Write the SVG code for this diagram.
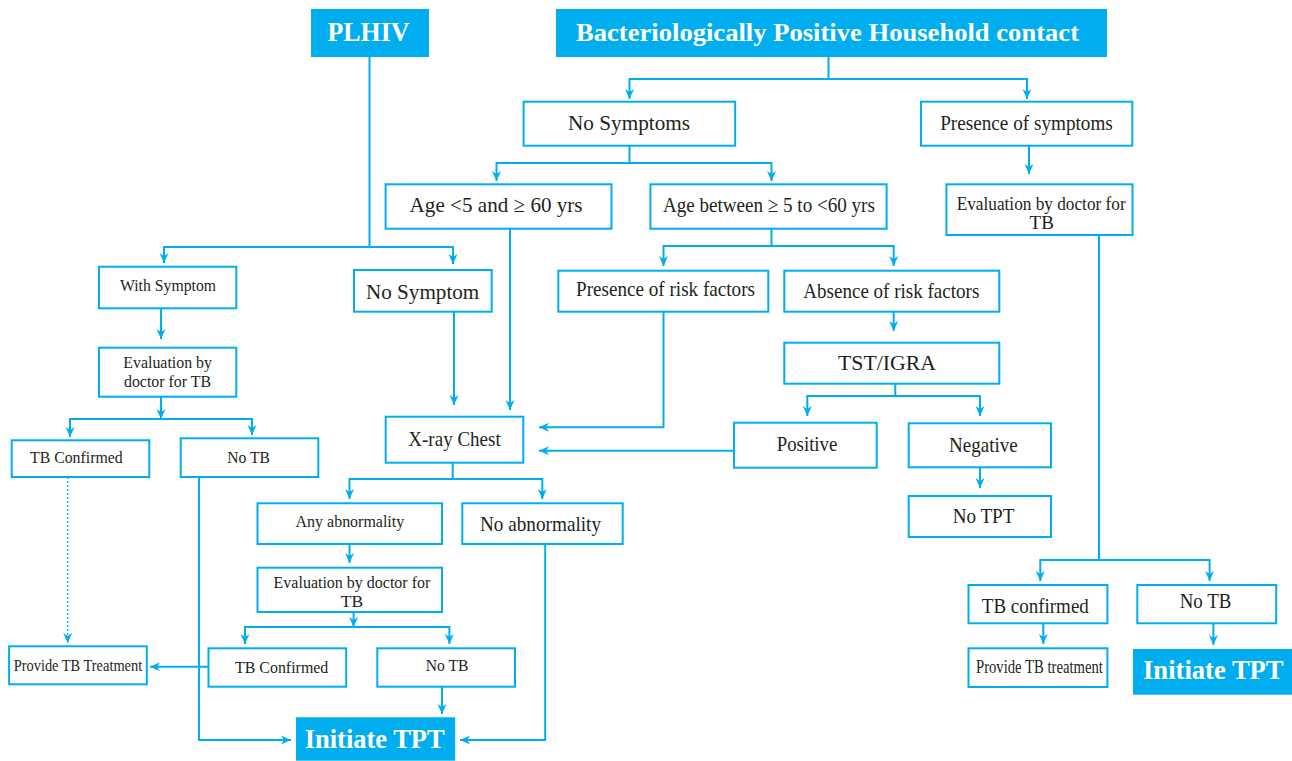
<svg xmlns="http://www.w3.org/2000/svg" width="1292" height="761" viewBox="0 0 1292 761">
  <defs>
    <marker id="arr" viewBox="0 0 10 10" refX="10" refY="5" markerUnits="userSpaceOnUse" markerWidth="10" markerHeight="10" orient="auto">
      <path d="M0,0.5 L10,5 L0,9.5 L3,5 z" fill="#00aeef"/>
    </marker>
    <style>
      .box { fill: #ffffff; stroke: #00aeef; stroke-width: 2; }
      .hd { fill: #00aeef; stroke: none; }
      .t { font-family: "Liberation Serif", "Times New Roman", serif; fill: #231f20; }
      .h { font-family: "Liberation Serif", "Times New Roman", serif; fill: #ffffff; font-weight: bold; }
      .c { fill: none; stroke: #00aeef; stroke-width: 2; marker-end: url(#arr); }
      .l { fill: none; stroke: #00aeef; stroke-width: 2; }
      .d { fill: none; stroke: #00aeef; stroke-width: 1.3; stroke-dasharray: 2 2; marker-end: url(#arr); }
    </style>
  </defs>
  <rect width="1292" height="761" fill="#ffffff"/>

  <!-- connectors -->
  <g id="connectors">
    <path class="c" d="M369.5,57 V247 H164 V263"/>
    <path class="c" d="M369.5,247 H453 V264"/>
    <path class="c" d="M828.5,57 V79 H629.5 V99"/>
    <path class="c" d="M828.5,79 H1027 V99"/>
    <path class="c" d="M629.5,146 V163 H496.5 V181"/>
    <path class="c" d="M629.5,163 H771.5 V181"/>
    <path class="c" d="M1029,146 V174"/>
    <path class="c" d="M510,229 V410"/>
    <path class="c" d="M771.5,229 V246 H663.5 V266"/>
    <path class="c" d="M771.5,246 H893.7 V266"/>
    <path class="c" d="M161,308 V339"/>
    <path class="c" d="M161,397 V419"/>
    <path class="c" d="M161,419 H70 V437"/>
    <path class="c" d="M161,419 H252 V435"/>
    <path class="c" d="M454,312 V405"/>
    <path class="c" d="M663.5,312 V427.3 H539"/>
    <path class="c" d="M734,450.7 H539"/>
    <path class="c" d="M893.7,312 V331"/>
    <path class="c" d="M895.3,384 V396 H807.3 V416"/>
    <path class="c" d="M895.3,396 H980 V416"/>
    <path class="c" d="M980,467.3 V488"/>
    <path class="c" d="M452.7,463 V479 H349.5 V499"/>
    <path class="c" d="M452.7,479 H542.3 V499"/>
    <path class="c" d="M349.5,544 V563"/>
    <path class="c" d="M353.6,612 V627"/>
    <path class="c" d="M353.6,627 H245 V644"/>
    <path class="c" d="M353.6,627 H449.4 V644"/>
    <path class="c" d="M208.5,666.7 H150"/>
    <path class="d" d="M67.7,477 V643"/>
    <path class="c" d="M199,477 V740 H291"/>
    <path class="c" d="M442,687 V714"/>
    <path class="c" d="M545.2,544 V740 H460"/>
    <path class="c" d="M1099,235 V560 H1040.3 V581"/>
    <path class="c" d="M1099,560 H1209.6 V581"/>
    <path class="c" d="M1043.3,623.3 V644"/>
    <path class="c" d="M1213.4,623.3 V645"/>
  </g>

  <!-- entry points -->
  <g id="plhiv">
    <rect class="hd" x="311" y="9" width="118" height="48"/>
    <text class="h" x="327.5" y="41" font-size="27" textLength="82" lengthAdjust="spacingAndGlyphs">PLHIV</text>
  </g>
  <g id="household">
    <rect class="hd" x="556" y="9" width="551" height="48"/>
    <text class="h" x="576" y="41" font-size="26" textLength="503" lengthAdjust="spacingAndGlyphs">Bacteriologically Positive Household contact</text>
  </g>

  <!-- household contact branch -->
  <g id="no-symptoms">
    <rect class="box" x="523.6" y="101.7" width="211.6" height="44"/>
    <text class="t" x="568" y="129.5" font-size="22" textLength="122" lengthAdjust="spacingAndGlyphs">No Symptoms</text>
  </g>
  <g id="presence-symptoms">
    <rect class="box" x="921" y="101.7" width="211.3" height="44"/>
    <text class="t" x="940.2" y="129.5" font-size="22" textLength="172.6" lengthAdjust="spacingAndGlyphs">Presence of symptoms</text>
  </g>
  <g id="age-lt5">
    <rect class="box" x="385.6" y="184.3" width="225.9" height="44.4"/>
    <text class="t" x="409.6" y="212" font-size="22" textLength="173" lengthAdjust="spacingAndGlyphs">Age &lt;5 and ≥ 60 yrs</text>
  </g>
  <g id="age-5-60">
    <rect class="box" x="650.4" y="184.3" width="236.2" height="44.4"/>
    <text class="t" x="662.9" y="212" font-size="22" textLength="212" lengthAdjust="spacingAndGlyphs">Age between ≥ 5 to &lt;60 yrs</text>
  </g>
  <g id="eval-right">
    <rect class="box" x="946.4" y="184.3" width="186.1" height="50.7"/>
    <text class="t" x="956.7" y="210" font-size="19" textLength="169" lengthAdjust="spacingAndGlyphs">Evaluation by doctor for</text>
    <text class="t" x="1041.7" y="229.3" font-size="19" text-anchor="middle">TB</text>
  </g>
  <g id="risk-present">
    <rect class="box" x="558.3" y="270.7" width="210" height="41"/>
    <text class="t" x="576" y="296" font-size="22" textLength="179" lengthAdjust="spacingAndGlyphs">Presence of risk factors</text>
  </g>
  <g id="risk-absent">
    <rect class="box" x="784.3" y="270.7" width="215" height="41"/>
    <text class="t" x="803.3" y="297.7" font-size="22" textLength="176" lengthAdjust="spacingAndGlyphs">Absence of risk factors</text>
  </g>
  <g id="tst-igra">
    <rect class="box" x="784.3" y="342.7" width="215" height="41"/>
    <text class="t" x="838" y="370" font-size="22" textLength="98" lengthAdjust="spacingAndGlyphs">TST/IGRA</text>
  </g>
  <g id="positive">
    <rect class="box" x="734" y="422.7" width="142.7" height="45"/>
    <text class="t" x="776.7" y="451" font-size="22" textLength="60.7" lengthAdjust="spacingAndGlyphs">Positive</text>
  </g>
  <g id="negative">
    <rect class="box" x="908.7" y="423.3" width="142.3" height="44"/>
    <text class="t" x="949" y="451.7" font-size="22" textLength="68.7" lengthAdjust="spacingAndGlyphs">Negative</text>
  </g>
  <g id="no-tpt">
    <rect class="box" x="908.7" y="496" width="142.3" height="41"/>
    <text class="t" x="952.7" y="523.3" font-size="22" textLength="61.7" lengthAdjust="spacingAndGlyphs">No TPT</text>
  </g>
  <g id="tb-confirmed-right">
    <rect class="box" x="968.5" y="585" width="138.9" height="38.3"/>
    <text class="t" x="981.8" y="612.7" font-size="21.5" textLength="107" lengthAdjust="spacingAndGlyphs">TB confirmed</text>
  </g>
  <g id="no-tb-right">
    <rect class="box" x="1137.3" y="585" width="138.9" height="38.3"/>
    <text class="t" x="1179.7" y="608.3" font-size="21.5" textLength="51.6" lengthAdjust="spacingAndGlyphs">No TB</text>
  </g>
  <g id="treat-right">
    <rect class="box" x="968.5" y="648.3" width="138.9" height="38.7"/>
    <text class="t" x="976" y="672.7" font-size="19" textLength="126.8" lengthAdjust="spacingAndGlyphs">Provide TB treatment</text>
  </g>
  <g id="tpt-right">
    <rect class="hd" x="1133" y="649" width="159" height="45.7"/>
    <text class="h" x="1143" y="679" font-size="27" textLength="140.6" lengthAdjust="spacingAndGlyphs">Initiate TPT</text>
  </g>

  <!-- PLHIV branch -->
  <g id="with-symptom">
    <rect class="box" x="99" y="266.7" width="137.3" height="41.6"/>
    <text class="t" x="120" y="290.7" font-size="17" textLength="96" lengthAdjust="spacingAndGlyphs">With Symptom</text>
  </g>
  <g id="no-symptom">
    <rect class="box" x="354" y="270" width="137.7" height="41.7"/>
    <text class="t" x="366" y="299.3" font-size="22" textLength="113.3" lengthAdjust="spacingAndGlyphs">No Symptom</text>
  </g>
  <g id="eval-left">
    <rect class="box" x="99" y="347.7" width="137.3" height="49"/>
    <text class="t" x="123.3" y="368.3" font-size="17" textLength="88.7" lengthAdjust="spacingAndGlyphs">Evaluation by</text>
    <text class="t" x="124" y="386.7" font-size="17" textLength="87" lengthAdjust="spacingAndGlyphs">doctor for TB</text>
  </g>
  <g id="tb-confirmed-left">
    <rect class="box" x="11.7" y="440.3" width="137.6" height="36.7"/>
    <text class="t" x="30" y="462.7" font-size="17" textLength="92.7" lengthAdjust="spacingAndGlyphs">TB Confirmed</text>
  </g>
  <g id="no-tb-left">
    <rect class="box" x="180.7" y="438.3" width="137.6" height="38.7"/>
    <text class="t" x="227.3" y="462.7" font-size="17" textLength="42.7" lengthAdjust="spacingAndGlyphs">No TB</text>
  </g>
  <g id="xray">
    <rect class="box" x="385.7" y="416.7" width="137.6" height="46"/>
    <text class="t" x="408.3" y="446" font-size="22" textLength="92.4" lengthAdjust="spacingAndGlyphs">X-ray Chest</text>
  </g>
  <g id="any-abnormality">
    <rect class="box" x="257.5" y="503.3" width="184.5" height="40.7"/>
    <text class="t" x="295.6" y="526.7" font-size="17.5" textLength="108.6" lengthAdjust="spacingAndGlyphs">Any abnormality</text>
  </g>
  <g id="no-abnormality">
    <rect class="box" x="462.3" y="503.3" width="160.4" height="40.7"/>
    <text class="t" x="480" y="530.7" font-size="22" textLength="121" lengthAdjust="spacingAndGlyphs">No abnormality</text>
  </g>
  <g id="eval-middle">
    <rect class="box" x="257.5" y="567.7" width="184.5" height="44.3"/>
    <text class="t" x="273.6" y="588.3" font-size="17.5" textLength="156.7" lengthAdjust="spacingAndGlyphs">Evaluation by doctor for</text>
    <text class="t" x="352" y="606.7" font-size="17.5" text-anchor="middle">TB</text>
  </g>
  <g id="tb-confirmed-middle">
    <rect class="box" x="208.5" y="648.3" width="137.7" height="38.4"/>
    <text class="t" x="235" y="673.3" font-size="17.5" textLength="93.3" lengthAdjust="spacingAndGlyphs">TB Confirmed</text>
  </g>
  <g id="no-tb-middle">
    <rect class="box" x="377.3" y="648.3" width="137.7" height="38.4"/>
    <text class="t" x="425.8" y="670.7" font-size="17.5" textLength="42.7" lengthAdjust="spacingAndGlyphs">No TB</text>
  </g>
  <g id="treat-left">
    <rect class="box" x="9.1" y="646.3" width="137.7" height="38"/>
    <text class="t" x="13.7" y="671" font-size="16.5" textLength="128.5" lengthAdjust="spacingAndGlyphs">Provide TB Treatment</text>
  </g>
  <g id="tpt-left">
    <rect class="hd" x="296" y="717.3" width="159.2" height="43.4"/>
    <text class="h" x="304.7" y="748.3" font-size="27" textLength="140" lengthAdjust="spacingAndGlyphs">Initiate TPT</text>
  </g>
</svg>
